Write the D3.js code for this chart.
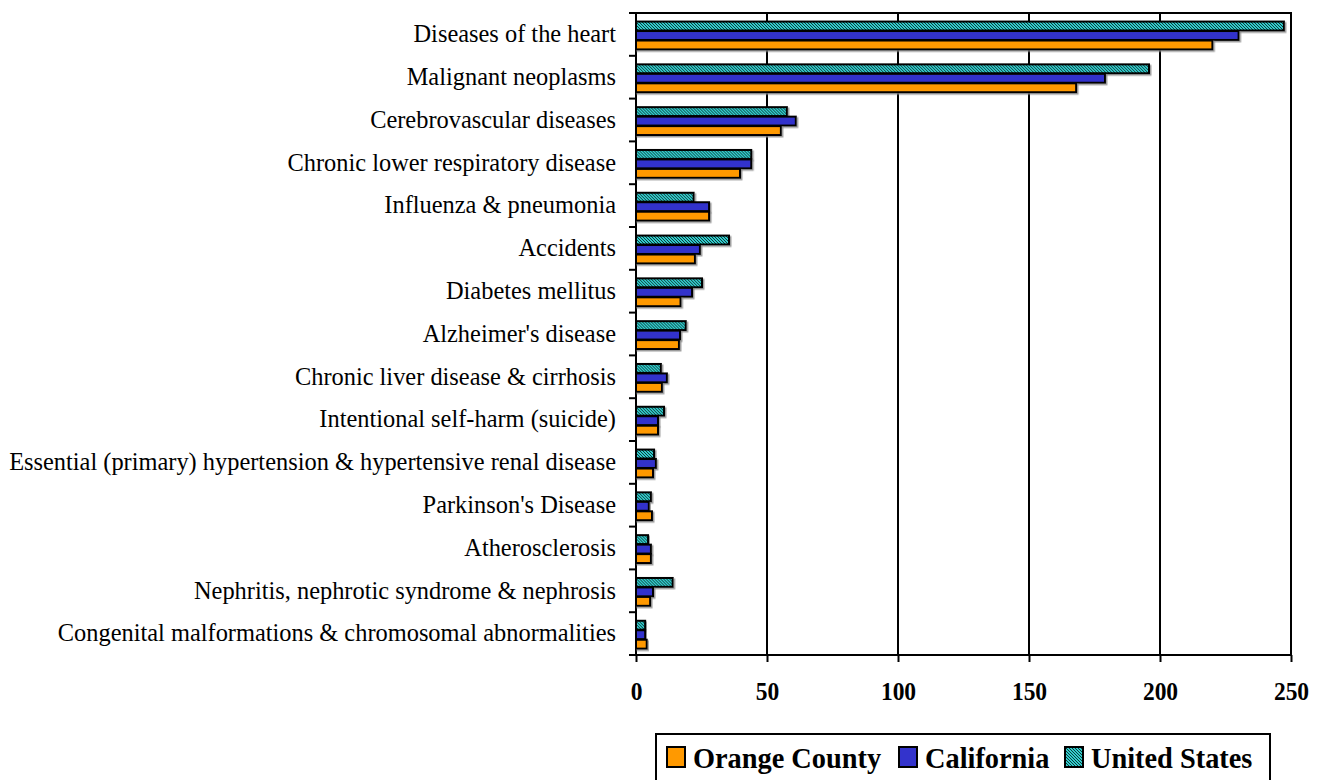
<!DOCTYPE html>
<html>
<head>
<meta charset="utf-8">
<script src="https://cdn.jsdelivr.net/npm/d3@7"></script>
<style>
  body { margin: 0; background: #fff; }
  svg { display: block; }
</style>
</head>
<body>
<svg id="chart" width="1317" height="780"></svg>
<script>
"use strict";
var causes = [
    "Diseases of the heart",
    "Malignant neoplasms",
    "Cerebrovascular diseases",
    "Chronic lower respiratory disease",
    "Influenza & pneumonia",
    "Accidents",
    "Diabetes mellitus",
    "Alzheimer's disease",
    "Chronic liver disease & cirrhosis",
    "Intentional self-harm (suicide)",
    "Essential (primary) hypertension & hypertensive renal disease",
    "Parkinson's Disease",
    "Atherosclerosis",
    "Nephritis, nephrotic syndrome & nephrosis",
    "Congenital malformations & chromosomal abnormalities"
];
var orangeCounty = [220, 168, 55.3, 39.7, 27.9, 22.5, 17, 16.4, 9.9, 8.4, 6.5, 6.1, 5.7, 5.4, 4.1];
var california = [230, 179, 61, 44, 27.9, 24.4, 21.4, 16.8, 11.8, 8.4, 7.6, 4.9, 5.7, 6.5, 3.5];
var unitedStates = [247.3, 195.8, 57.6, 44, 22, 35.5, 25.2, 19, 9.5, 10.7, 6.9, 5.7, 4.6, 14, 3.5];
var seriesNames = ["Orange County", "California", "United States"];
var xTicks = [0, 50, 100, 150, 200, 250];

var svg = d3.select("#chart");
var defs = svg.append("defs");

var pat = defs.append("pattern")
    .attr("id", "usPattern")
    .attr("width", 3).attr("height", 3)
    .attr("patternUnits", "userSpaceOnUse");
pat.append("rect").attr("width", 3).attr("height", 3).attr("fill", "#33cccc");
pat.append("rect").attr("x", 0).attr("y", 0).attr("width", 1).attr("height", 1).attr("fill", "#0a3a3a");
pat.append("rect").attr("x", 1).attr("y", 1).attr("width", 1).attr("height", 1).attr("fill", "#0a3a3a");
pat.append("rect").attr("x", 2).attr("y", 2).attr("width", 1).attr("height", 1).attr("fill", "#0a3a3a");

var shadow = defs.append("filter").attr("id", "shadow")
    .attr("x", "-5%").attr("y", "-20%").attr("width", "120%").attr("height", "160%");
shadow.append("feDropShadow")
    .attr("dx", 1.5).attr("dy", 1.5).attr("stdDeviation", 0.4)
    .attr("flood-color", "#888").attr("flood-opacity", 0.8);

var fills = {
    "Orange County": "#ff9900",
    "California": "#3333cc",
    "United States": "url(#usPattern)"
};

var serif = "'Liberation Serif', 'Times New Roman', serif";
var plotLeft = 636, plotRight = 1291, plotTop = 13, plotBottom = 655;

var x = d3.scaleLinear().domain([0, 250]).range([plotLeft, plotRight]);
var y = d3.scaleBand().domain(causes).range([plotTop, plotBottom]).padding(0);
var barOrder = ["United States", "California", "Orange County"];
var yInner = d3.scaleBand().domain(barOrder).range([8, 37]).padding(0.06);

var rows = causes.map(function (c, i) {
    return {
        cause: c,
        values: {
            "Orange County": orangeCounty[i],
            "California": california[i],
            "United States": unitedStates[i]
        }
    };
});

// gridlines
svg.append("g").selectAll("line")
    .data(xTicks.slice(1, -1))
    .enter().append("line")
    .attr("x1", function (d) { return x(d); })
    .attr("x2", function (d) { return x(d); })
    .attr("y1", plotTop).attr("y2", plotBottom)
    .attr("stroke", "#000").attr("stroke-width", 2);

// plot frame
svg.append("rect")
    .attr("x", plotLeft).attr("y", plotTop)
    .attr("width", plotRight - plotLeft).attr("height", plotBottom - plotTop)
    .attr("fill", "none").attr("stroke", "#000").attr("stroke-width", 2);

// bars
var groups = svg.append("g").selectAll("g")
    .data(rows)
    .enter().append("g")
    .attr("transform", function (d) { return "translate(0," + y(d.cause) + ")"; });

groups.selectAll("rect")
    .data(function (d) {
        return barOrder.map(function (s) { return { series: s, value: d.values[s] }; });
    })
    .enter().append("rect")
    .attr("x", x(0))
    .attr("y", function (d) { return yInner(d.series); })
    .attr("width", function (d) { return x(d.value) - x(0); })
    .attr("height", yInner.bandwidth())
    .attr("fill", function (d) { return fills[d.series]; })
    .attr("stroke", "#000").attr("stroke-width", 2)
    .attr("filter", "url(#shadow)");

// left axis: ticks at category boundaries
var boundaries = causes.map(function (c) { return y(c); }).concat([plotBottom]);
svg.append("g").selectAll("line")
    .data(boundaries)
    .enter().append("line")
    .attr("x1", plotLeft - 7).attr("x2", plotLeft)
    .attr("y1", function (d) { return d; })
    .attr("y2", function (d) { return d; })
    .attr("stroke", "#000").attr("stroke-width", 2);

svg.append("g").selectAll("text")
    .data(causes)
    .enter().append("text")
    .attr("x", 616)
    .attr("y", function (d) { return y(d) + y.bandwidth() / 2; })
    .attr("dy", "0.32em")
    .attr("text-anchor", "end")
    .style("font-family", serif)
    .style("font-size", "24.4px")
    .text(function (d) { return d; });

// bottom axis
var xAxis = svg.append("g")
    .attr("transform", "translate(0," + plotBottom + ")")
    .call(d3.axisBottom(x).tickValues(xTicks).tickSize(7).tickPadding(0).tickFormat(d3.format("d")));
xAxis.select(".domain").remove();
xAxis.selectAll(".tick line").attr("stroke", "#000").attr("stroke-width", 2);
xAxis.selectAll(".tick text")
    .attr("y", 45)
    .attr("dy", null)
    .attr("transform", "scale(0.94,1)")
    .style("font-family", serif)
    .style("font-size", "25px")
    .style("font-weight", "bold")
    .attr("fill", "#000");

// legend
var legend = svg.append("g");
legend.append("rect")
    .attr("x", 656).attr("y", 734)
    .attr("width", 614).attr("height", 60)
    .attr("fill", "#fff").attr("stroke", "#000").attr("stroke-width", 2);

var legendX = [667, 899, 1065];
var items = legend.selectAll("g.item")
    .data(seriesNames)
    .enter().append("g")
    .attr("class", "item")
    .attr("transform", function (d, i) { return "translate(" + legendX[i] + ",747)"; });
items.append("rect")
    .attr("width", 18).attr("height", 20)
    .attr("fill", function (d) { return fills[d]; })
    .attr("stroke", "#000").attr("stroke-width", 2);
items.append("g")
    .attr("transform", "translate(26,21) scale(0.945,1)")
    .append("text")
    .style("font-family", serif)
    .style("font-size", "30px")
    .style("font-weight", "bold")
    .text(function (d) { return d; });
</script>
</body>
</html>
